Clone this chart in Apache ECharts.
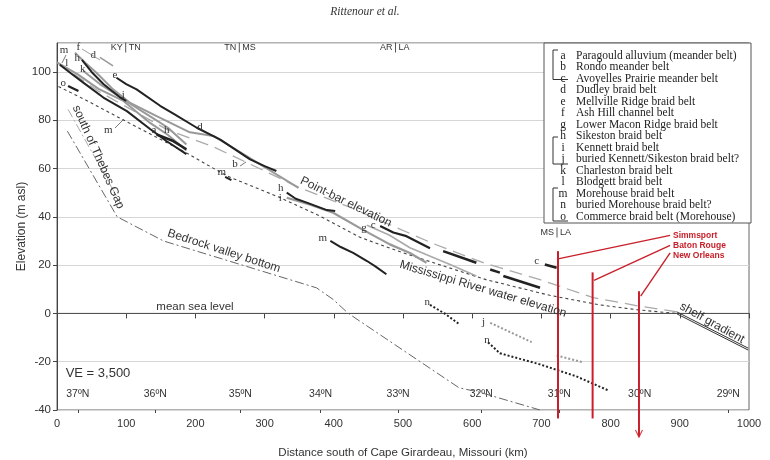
<!DOCTYPE html>
<html>
<head>
<meta charset="utf-8">
<script src="https://cdn.jsdelivr.net/npm/echarts@6/dist/echarts.min.js"></script>
<style>
html,body{margin:0;padding:0;background:#fff;}
#main{width:770px;height:460px;}
</style>
</head>
<body>
<div id="main"></div>
<script type="text/javascript">
// 剖面线 (km, m asl)
var waterElev = [[2,94],[40,88.6],[100,79.5],[187,66.5],[245,57],[322,48],[380,40.3],[438,31.5],[496,25.5],[560,19.5],[620,14],[712,7.5],[785,3.5],[842,1.4],[895,0]];
var pointBar = [[0,104],[60,92],[160,76],[226,69],[300,59],[351,52],[423,44],[543,29],[616,21],[698,14],[775,6.5],[842,3],[900,0.5]];
var bedrock = [[15,75.5],[87,40],[154,30],[375,10.6],[399,5.8],[421,0],[581,-30.8],[610,-32.6],[698,-40]];
var thebesGap = [[16,84.5],[93,45]];
var shelfUpper = [[896,0.6],[999,-14.4]];
var shelfLower = [[896,-0.2],[999,-15.2]];
var seaLevel = [[0,0],[1000,0]];

// 黑色辫状带
var beltM1 = [[4,103],[20,99.5],[38,95.6],[67,89.4],[101,83.8],[134,76.5],[158,71.4],[187,66]];
var beltH1 = [[36,105],[50,100],[67,95],[80,92],[91,89.5],[100,88]];
var beltE = [[86,97.6],[100,95],[115,92.8],[149,86],[170,82.4],[202,76.9],[236,72],[279,63.8],[300,61],[317,59]];
var beltA = [[144,74.1],[168,71.4],[187,68]];
var beltO = [[16,94.2],[31,92.1]];
var beltM2 = [[243,56.6],[252,55.2]];
var beltH2 = [[332,50],[345,47.5],[361,45.9],[390,42.8],[402,42.4]];
var beltM3 = [[395,30],[410,27.5],[428,25.1],[448,21.7],[460,19.5],[476,16.2]];
var beltC1 = [[467,36.2],[486,33.5],[505,32],[539,27]];
var beltC2 = [[558,25.8],[606,21]];
var beltC3 = [[626,18.2],[640,16.9]];
var beltC4 = [[645,15.5],[698,10.6]];
var beltC5 = [[705,20.3],[722,18.9]];
// 灰色辫状带
var beltF = [[26,108],[40,104],[57,99.7],[81,92.8],[105,87.3],[144,81.7],[192,75],[226,73.5],[274,65.2],[317,57.6],[349,52]];
var beltD = [[62,106],[81,102.5]];
var beltL = [[0,104],[30,99],[60,93],[96,88],[134,79],[160,74],[187,67.5]];
var beltK = [[38,100.4],[62,95],[81,91.5],[96,88.6],[134,81.7],[160,77],[187,70]];
var beltG1 = [[332,47.9],[366,45],[399,41.7],[443,34.5],[481,28.6],[510,25],[534,21]];
var beltG2 = [[448,36.5],[480,32.5],[510,27.2],[568,20.3],[606,15.5]];
// 埋藏带 (点线)
var beltN1 = [[539,3.5],[560,0],[582,-4.6]];
var beltN2 = [[623,-12],[640,-16.5],[698,-21.1],[750,-26],[796,-31.8]];
var beltJ1 = [[626,-3.9],[686,-11.9]];
var beltJ2 = [[722,-17.4],[760,-20.2]];
// 城市
var simmsport = [[724,25.8],[724,-43.5]];
var batonRouge = [[774,17],[774,-43.5]];
var newOrleans = [[841,9.2],[841,-51]];
var simmsLink = [[724,22.6],[886,32.3]];
var batonLink = [[776,13.7],[886,28.2]];
var orleansLink = [[843.5,7.2],[886,25.1]];

var latKm = [30,142,265,381,493,613,726,842,970];
var latLabels = ['37ºN','36ºN','35ºN','34ºN','33ºN','32ºN','31ºN','30ºN','29ºN'];

var legendKeys = ['a','b','c','d','e','f','g','h','i','j','k','l','m','n','o'];
var legendNames = ['Paragould alluvium (meander belt)','Rondo meander belt','Avoyelles Prairie meander belt','Dudley braid belt','Mellville Ridge braid belt','Ash Hill channel belt','Lower Macon Ridge braid belt','Sikeston braid belt','Kennett braid belt','buried Kennett/Sikeston braid belt?','Charleston braid belt','Blodgett braid belt','Morehouse braid belt','buried Morehouse braid belt?','Commerce braid belt (Morehouse)'];

var SANS = 'Liberation Sans, Arial, sans-serif';
var SERIF = 'Liberation Serif, Times New Roman, serif';
var RED = '#c8202a';

function line(data, color, width, type, z){
    return {
        type:'line', data:data, symbol:'none', silent:true, animation:false,
        lineStyle:{color:color, width:width, type:type || 'solid'}, z:z || 3
    };
}
function redLine(data, width){
    var s = line(data, RED, width, 'solid', 6);
    s.clip = false;
    return s;
}

var series = [
    line(seaLevel, '#555', 1, 'solid', 2),
    line(waterElev, '#444', 1.1, [3,3]),
    line(pointBar, '#aaa', 1.3, [13,7]),
    line(bedrock, '#666', 1, [9,3,2,3]),
    line(thebesGap, '#aaa', 1, [9,3,2,3]),
    line(shelfUpper, '#333', 1),
    line(shelfLower, '#333', 1),
    line(beltF, '#999', 2),
    line(beltD, '#999', 1.5),
    line(beltL, '#999', 2),
    line(beltK, '#999', 2),
    line(beltG1, '#999', 2.2),
    line(beltG2, '#aaa', 1.6),
    line(beltM1, '#222', 2, 'solid', 4),
    line(beltH1, '#222', 2, 'solid', 4),
    line(beltE, '#222', 2, 'solid', 4),
    line(beltA, '#222', 2.6, 'solid', 4),
    line(beltO, '#222', 2.2, 'solid', 4),
    line(beltM2, '#222', 2, 'solid', 4),
    line(beltH2, '#222', 2, 'solid', 4),
    line(beltM3, '#222', 2, 'solid', 4),
    line(beltC1, '#222', 2.2, 'solid', 4),
    line(beltC2, '#222', 2.6, 'solid', 4),
    line(beltC3, '#222', 2.6, 'solid', 4),
    line(beltC4, '#222', 2.6, 'solid', 4),
    line(beltC5, '#222', 2.6, 'solid', 4),
    line(beltN1, '#222', 2, [2,2]),
    line(beltN2, '#222', 2, [2,2]),
    line(beltJ1, '#999', 2, [2,2]),
    line(beltJ2, '#999', 2, [2,2]),
    redLine(simmsport, 2),
    redLine(batonRouge, 2),
    redLine(newOrleans, 2),
    redLine(simmsLink, 1.4),
    redLine(batonLink, 1.4),
    redLine(orleansLink, 1.4)
];
// 箭头
series.push({
    type:'scatter', data:[newOrleans[1]], silent:true, animation:false, clip:false, z:6,
    symbol:'path://M0,0 L5,8 L10,0', symbolSize:[7,7], symbolOffset:[0,-3],
    itemStyle:{color:'none', borderColor:RED, borderWidth:1.2}
});

// 注释
var graphic = [];
function txt(x, y, s, font, fill, align, rot){
    graphic.push({
        type:'text', x:x, y:y, rotation:rot ? -rot*Math.PI/180 : 0, z:10, silent:true,
        style:{text:s, font:font, fill:fill || '#333', textAlign:align || 'center', textVerticalAlign:'middle'}
    });
}
function seg(points, color, w){
    graphic.push({type:'polyline', z:10, silent:true, shape:{points:points}, style:{stroke:color || '#333', lineWidth:w || 1, fill:null}});
}

txt(365, 12, 'Rittenour et al.', 'italic 11.5px ' + SERIF, '#333');

// 图例框
graphic.push({type:'rect', z:9, silent:true, shape:{x:544, y:43, width:207, height:180}, style:{fill:'#fff', stroke:'#555', lineWidth:1}});
for (var i = 0; i < legendKeys.length; i++) {
    var ly = 56 + i * 11.48;
    txt(563, ly, legendKeys[i], '11.5px ' + SERIF, '#222');
    txt(576, ly, legendNames[i], '11.5px ' + SERIF, '#222', 'left');
}
seg([[558,50],[553,50],[553,79.5],[568,79.5]], '#333', 1);
seg([[558,137],[553,137],[553,164],[568,164]], '#333', 1);
seg([[558,188],[553,188],[553,221],[568,221]], '#333', 1);

// 州界
function state(x, y, a, b){
    txt(x - 3, y, a, '9px ' + SANS, '#333', 'right');
    txt(x + 3, y, b, '9px ' + SANS, '#333', 'left');
    seg([[x, y - 5], [x, y + 5]], '#555', 1);
}
state(125.7, 47.5, 'KY', 'TN');
state(239.3, 47.5, 'TN', 'MS');
state(395.5, 47.5, 'AR', 'LA');
state(557, 232.5, 'MS', 'LA');

// 带字母
var letterFont = '11px ' + SERIF;
[[64,50,'m'],[78.3,47.3,'f'],[77.3,58.3,'h'],[93.3,55,'d'],[66.7,63.3,'l'],[82.7,69.5,'k'],[115,75,'e'],[63.3,83.3,'o'],
 [123.3,95,'i'],[108.3,130,'m'],[154,130,'a'],[166.7,130,'h'],[200,126.7,'d'],[235,164.3,'b'],[221.7,171.7,'m'],
 [280.7,188.3,'h'],[280.3,197.7,'i'],[364,228.3,'g'],[373.3,225,'c'],[322.7,238.3,'m'],[536.7,261,'c'],
 [427.3,302,'n'],[483.5,322,'j'],[487,340,'n']].forEach(function(p){ txt(p[0], p[1], p[2], letterFont, '#333'); });
seg([[66,55],[62,63]], '#555', 0.8);
seg([[82,49],[100,60]], '#888', 0.8);
seg([[115,128],[124,119]], '#555', 0.8);
seg([[240,166],[246,162]], '#555', 0.8);

// 曲线标签
txt(98.3, 157, 'south of Thebes Gap', '12px ' + SANS, '#333', 'center', 66);
txt(346, 202, 'Point-bar elevation', '12px ' + SANS, '#333', 'center', 26);
txt(224, 251, 'Bedrock valley bottom', '12px ' + SANS, '#333', 'center', 18);
txt(483, 289, 'Mississippi River water elevation', '12px ' + SANS, '#333', 'center', 16.5);
txt(712, 323, 'shelf gradient', '12px ' + SANS, '#333', 'center', 29);
txt(195, 307, 'mean sea level', '11.5px ' + SANS, '#333');
txt(98, 373, 'VE = 3,500', '13px ' + SANS, '#333');

// 城市标签
txt(673, 236, 'Simmsport', 'bold 8.5px ' + SANS, RED, 'left');
txt(673, 246, 'Baton Rouge', 'bold 8.5px ' + SANS, RED, 'left');
txt(673, 255.5, 'New Orleans', 'bold 8.5px ' + SANS, RED, 'left');

var chart = echarts.init(document.getElementById('main'));
var option = {
    animation:false,
    backgroundColor:'#fff',
    grid:{left:57, right:21, top:43, bottom:50, show:true, borderColor:'#666', borderWidth:1,
        containLabel:false, outerBoundsMode:'none'},
    xAxis:[{
        type:'value', min:0, max:1000, interval:100,
        name:'Distance south of Cape Girardeau, Missouri (km)', nameLocation:'middle', nameGap:37, nameMoveOverlap:false,
        nameTextStyle:{fontFamily:SANS, fontSize:11.5, color:'#333'},
        axisLine:{lineStyle:{color:'#444'}},
        axisTick:{length:5, lineStyle:{color:'#444'}},
        axisLabel:{fontFamily:SANS, fontSize:11, color:'#333', margin:8, formatter:function(v){ return String(v); }},
        splitLine:{show:false}
    },{
        type:'value', min:0, max:1000, position:'bottom',
        axisLine:{show:false},
        axisTick:{show:true, length:3, customValues:latKm, lineStyle:{color:'#444'}},
        axisLabel:{inside:true, margin:10, customValues:latKm, fontFamily:SANS, fontSize:10.5, color:'#333',
            formatter:function(v){ return latLabels[latKm.indexOf(v)]; }},
        splitLine:{show:false}
    }],
    yAxis:{
        type:'value', min:-40, max:112, interval:20,
        name:'Elevation (m asl)', nameLocation:'middle', nameGap:29, nameRotate:90, nameMoveOverlap:false,
        nameTextStyle:{fontFamily:SANS, fontSize:12, color:'#333'},
        axisLine:{show:true, lineStyle:{color:'#444'}},
        axisTick:{show:true, length:4, lineStyle:{color:'#444'}},
        axisLabel:{fontFamily:SANS, fontSize:11.5, color:'#333', margin:6, showMaxLabel:false,
            formatter:function(v){ return v > 100 ? '' : v; }},
        splitLine:{lineStyle:{color:'#d6d6d6', width:1}}
    },
    series:series,
    graphic:graphic
};
chart.setOption(option);
</script>
</body>
</html>
